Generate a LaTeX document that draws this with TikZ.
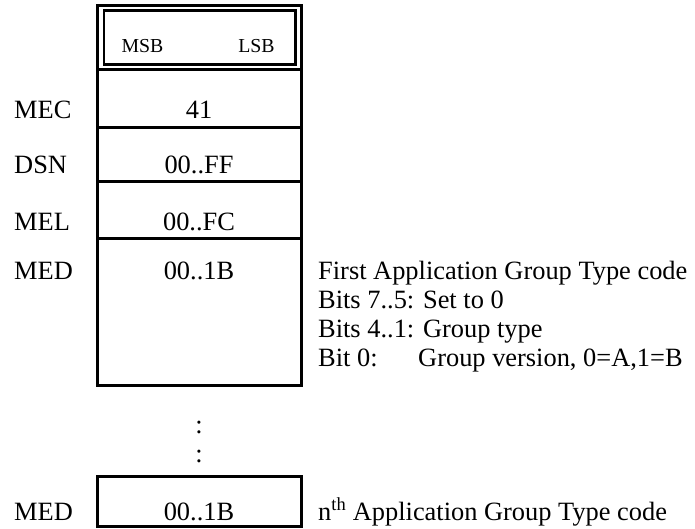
\documentclass[tikz,border=0pt]{standalone}
\usepackage{fontspec}
\setmainfont{Liberation Serif}
\begin{document}
\begin{tikzpicture}[x=1pt,y=-1pt,
  frame/.style={line width=3pt},
  inner frame/.style={line width=2.4pt},
  txt/.style={font=\fontsize{26.4}{30}\selectfont, inner sep=0pt},
  cell/.style={txt, anchor=base},
  lbl/.style={txt, anchor=base west},
  hdr/.style={font=\fontsize{19.8}{24}\selectfont, anchor=base, inner sep=0pt}]
\useasboundingbox (0,0) rectangle (695,528);

% header with double border
\draw[frame] (97.5,5.5) rectangle (301,69.5);
\draw[inner frame] (104,10.5) rectangle (295.5,64.5);
\node[hdr] (msb) at (142.5,52) {MSB};
\node[hdr] (lsb) at (256.5,52) {LSB};

% field column
\draw[frame] (97.5,69.5) rectangle (301,385);
\draw[frame] (97.5,127.5) -- (301,127.5);
\draw[frame] (97.5,181) -- (301,181);
\draw[frame] (97.5,238) -- (301,238);

% last field box
\draw[frame] (97.5,476.5) rectangle (301,526.5);

% field labels
\node[lbl] (mec) at (14,118) {MEC};
\node[lbl] (dsn) at (14,173) {DSN};
\node[lbl] (mel) at (14,230) {MEL};
\node[lbl] (med) at (14,279) {MED};
\node[lbl] (medn) at (14,520) {MED};

% field values
\node[cell] (v41) at (199,118) {41};
\node[cell] (vdsn) at (199,173) {00..FF};
\node[cell] (vmel) at (199,230) {00..FC};
\node[cell] (vmed) at (199,279) {00..1B};
\node[cell] (vmedn) at (199,520) {00..1B};

% continuation marks
\node[cell] (dot1) at (199,433) {:};
\node[cell] (dot2) at (199,462) {:};

% descriptions
\node[lbl] (d1) at (318,279) {First Application Group Type code};
\node[lbl] (d2) at (318,308) {Bits 7..5: Set to 0};
\node[lbl] (d3) at (318,337) {Bits 4..1: Group type};
\node[lbl] (d4) at (318,366) {Bit 0:};
\node[lbl] (d4b) at (418,366) {Group version, 0=A,1=B};
\node[lbl] (dn) at (318,520) {n\textsuperscript{th} Application Group Type code};
\end{tikzpicture}
\end{document}
